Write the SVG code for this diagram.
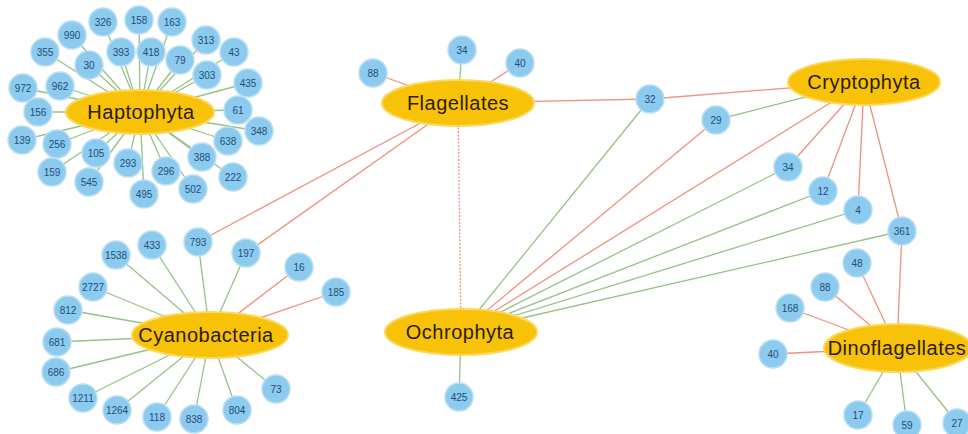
<svg xmlns="http://www.w3.org/2000/svg" width="968" height="434" viewBox="0 0 968 434">
<defs>
<style>
.g{stroke:#95c285;stroke-width:1.3;fill:none}
.r{stroke:#f0917f;stroke-width:1.3;fill:none}
.d{stroke:#ef9a8c;stroke-width:1.4;stroke-dasharray:2 1.5;fill:none}
.n circle{fill:#8ccaee;stroke:#b8def5;stroke-width:1.5}
.n text{font-family:"Liberation Sans",Arial,sans-serif;font-size:10px;fill:#224f7c;text-anchor:middle;dominant-baseline:central}
.h ellipse{fill:#f7c208;stroke:#fbd85a;stroke-width:2}
.h text{font-family:"Liberation Sans",Arial,sans-serif;font-size:20px;letter-spacing:0.5px;fill:#2b2000;text-anchor:middle;dominant-baseline:central}
</style>
</defs>
<rect width="968" height="434" fill="#ffffff"/>
<g id="connectors">
<line class="g" x1="140" y1="112" x2="103" y2="22"/>
<line class="g" x1="140" y1="112" x2="139" y2="20"/>
<line class="g" x1="140" y1="112" x2="172" y2="22"/>
<line class="g" x1="140" y1="112" x2="72" y2="35"/>
<line class="g" x1="140" y1="112" x2="45" y2="52"/>
<line class="g" x1="140" y1="112" x2="121" y2="52"/>
<line class="g" x1="140" y1="112" x2="151" y2="52"/>
<line class="g" x1="140" y1="112" x2="180" y2="60"/>
<line class="g" x1="140" y1="112" x2="206" y2="40"/>
<line class="g" x1="140" y1="112" x2="234" y2="52"/>
<line class="g" x1="140" y1="112" x2="89" y2="65"/>
<line class="g" x1="140" y1="112" x2="207" y2="75"/>
<line class="g" x1="140" y1="112" x2="23" y2="88"/>
<line class="g" x1="140" y1="112" x2="60" y2="86"/>
<line class="g" x1="140" y1="112" x2="248" y2="83"/>
<line class="g" x1="140" y1="112" x2="38" y2="112"/>
<line class="g" x1="140" y1="112" x2="238" y2="110"/>
<line class="g" x1="140" y1="112" x2="259" y2="131"/>
<line class="g" x1="140" y1="112" x2="22" y2="140"/>
<line class="g" x1="140" y1="112" x2="57" y2="144"/>
<line class="g" x1="140" y1="112" x2="96" y2="153"/>
<line class="g" x1="140" y1="112" x2="228" y2="141"/>
<line class="g" x1="140" y1="112" x2="202" y2="157"/>
<line class="g" x1="140" y1="112" x2="52" y2="172"/>
<line class="g" x1="140" y1="112" x2="89" y2="182"/>
<line class="g" x1="140" y1="112" x2="128" y2="163"/>
<line class="g" x1="140" y1="112" x2="166" y2="171"/>
<line class="g" x1="140" y1="112" x2="233" y2="177"/>
<line class="g" x1="140" y1="112" x2="144" y2="194"/>
<line class="g" x1="140" y1="112" x2="193" y2="189"/>
<line class="g" x1="210" y1="335" x2="116" y2="255"/>
<line class="g" x1="210" y1="335" x2="152" y2="245"/>
<line class="g" x1="210" y1="335" x2="198" y2="242"/>
<line class="g" x1="210" y1="335" x2="246" y2="253"/>
<line class="r" x1="210" y1="335" x2="299" y2="267"/>
<line class="r" x1="210" y1="335" x2="336" y2="292"/>
<line class="g" x1="210" y1="335" x2="93" y2="287"/>
<line class="g" x1="210" y1="335" x2="68" y2="310"/>
<line class="g" x1="210" y1="335" x2="57" y2="342"/>
<line class="g" x1="210" y1="335" x2="56" y2="372"/>
<line class="g" x1="210" y1="335" x2="83" y2="398"/>
<line class="g" x1="210" y1="335" x2="117" y2="410"/>
<line class="g" x1="210" y1="335" x2="157" y2="417"/>
<line class="g" x1="210" y1="335" x2="194" y2="419"/>
<line class="g" x1="210" y1="335" x2="237" y2="410"/>
<line class="g" x1="210" y1="335" x2="276" y2="389"/>
<line class="r" x1="458" y1="103" x2="198" y2="242"/>
<line class="r" x1="458" y1="103" x2="246" y2="253"/>
<line class="r" x1="458" y1="103" x2="373" y2="73"/>
<line class="g" x1="458" y1="103" x2="462" y2="50"/>
<line class="r" x1="458" y1="103" x2="520" y2="63"/>
<line class="r" x1="458" y1="103" x2="650" y2="99"/>
<line class="d" x1="458" y1="103" x2="461" y2="332"/>
<line class="r" x1="864" y1="82" x2="650" y2="99"/>
<line class="g" x1="864" y1="82" x2="716" y2="120"/>
<line class="r" x1="864" y1="82" x2="788" y2="167"/>
<line class="r" x1="864" y1="82" x2="823" y2="191"/>
<line class="r" x1="864" y1="82" x2="858" y2="210"/>
<line class="r" x1="864" y1="82" x2="902" y2="231"/>
<line class="r" x1="864" y1="82" x2="461" y2="332"/>
<line class="g" x1="461" y1="332" x2="650" y2="99"/>
<line class="r" x1="461" y1="332" x2="716" y2="120"/>
<line class="g" x1="461" y1="332" x2="788" y2="167"/>
<line class="g" x1="461" y1="332" x2="823" y2="191"/>
<line class="g" x1="461" y1="332" x2="858" y2="210"/>
<line class="g" x1="461" y1="332" x2="902" y2="231"/>
<line class="g" x1="461" y1="332" x2="459" y2="397"/>
<line class="r" x1="897" y1="348" x2="902" y2="231"/>
<line class="r" x1="897" y1="348" x2="857" y2="263"/>
<line class="r" x1="897" y1="348" x2="825" y2="287"/>
<line class="r" x1="897" y1="348" x2="790" y2="308"/>
<line class="r" x1="897" y1="348" x2="773" y2="354"/>
<line class="g" x1="897" y1="348" x2="858" y2="415"/>
<line class="g" x1="897" y1="348" x2="907" y2="425"/>
<line class="g" x1="897" y1="348" x2="957" y2="423"/>
</g>
<g id="hubs">
<g id="Haptophyta" class="h"><ellipse cx="140" cy="112" rx="74" ry="22"/><text x="141" y="112">Haptophyta</text></g>
<g id="Cyanobacteria" class="h"><ellipse cx="210" cy="335" rx="78" ry="23"/><text x="206" y="335">Cyanobacteria</text></g>
<g id="Flagellates" class="h"><ellipse cx="458" cy="103" rx="76" ry="23"/><text x="458" y="103">Flagellates</text></g>
<g id="Cryptophyta" class="h"><ellipse cx="864" cy="82" rx="76" ry="23"/><text x="864" y="82">Cryptophyta</text></g>
<g id="Ochrophyta" class="h"><ellipse cx="461" cy="332" rx="76" ry="23"/><text x="460" y="332">Ochrophyta</text></g>
<g id="Dinoflagellates" class="h"><ellipse cx="898" cy="348" rx="74" ry="24"/><text x="897" y="348">Dinoflagellates</text></g>
</g>
<g id="nodes">
<g id="h326" class="n"><circle cx="103" cy="22" r="14"/><text x="103" y="22">326</text></g>
<g id="h158" class="n"><circle cx="139" cy="20" r="14"/><text x="139" y="20">158</text></g>
<g id="h163" class="n"><circle cx="172" cy="22" r="14"/><text x="172" y="22">163</text></g>
<g id="h990" class="n"><circle cx="72" cy="35" r="14"/><text x="72" y="35">990</text></g>
<g id="h355" class="n"><circle cx="45" cy="52" r="14"/><text x="45" y="52">355</text></g>
<g id="h393" class="n"><circle cx="121" cy="52" r="14"/><text x="121" y="52">393</text></g>
<g id="h418" class="n"><circle cx="151" cy="52" r="14"/><text x="151" y="52">418</text></g>
<g id="h79" class="n"><circle cx="180" cy="60" r="14"/><text x="180" y="60">79</text></g>
<g id="h313" class="n"><circle cx="206" cy="40" r="14"/><text x="206" y="40">313</text></g>
<g id="h43" class="n"><circle cx="234" cy="52" r="14"/><text x="234" y="52">43</text></g>
<g id="h30" class="n"><circle cx="89" cy="65" r="14"/><text x="89" y="65">30</text></g>
<g id="h303" class="n"><circle cx="207" cy="75" r="14"/><text x="207" y="75">303</text></g>
<g id="h972" class="n"><circle cx="23" cy="88" r="14"/><text x="23" y="88">972</text></g>
<g id="h962" class="n"><circle cx="60" cy="86" r="14"/><text x="60" y="86">962</text></g>
<g id="h435" class="n"><circle cx="248" cy="83" r="14"/><text x="248" y="83">435</text></g>
<g id="h156" class="n"><circle cx="38" cy="112" r="14"/><text x="38" y="112">156</text></g>
<g id="h61" class="n"><circle cx="238" cy="110" r="14"/><text x="238" y="110">61</text></g>
<g id="h348" class="n"><circle cx="259" cy="131" r="14"/><text x="259" y="131">348</text></g>
<g id="h139" class="n"><circle cx="22" cy="140" r="14"/><text x="22" y="140">139</text></g>
<g id="h256" class="n"><circle cx="57" cy="144" r="14"/><text x="57" y="144">256</text></g>
<g id="h105" class="n"><circle cx="96" cy="153" r="14"/><text x="96" y="153">105</text></g>
<g id="h638" class="n"><circle cx="228" cy="141" r="14"/><text x="228" y="141">638</text></g>
<g id="h388" class="n"><circle cx="202" cy="157" r="14"/><text x="202" y="157">388</text></g>
<g id="h159" class="n"><circle cx="52" cy="172" r="14"/><text x="52" y="172">159</text></g>
<g id="h545" class="n"><circle cx="89" cy="182" r="14"/><text x="89" y="182">545</text></g>
<g id="h293" class="n"><circle cx="128" cy="163" r="14"/><text x="128" y="163">293</text></g>
<g id="h296" class="n"><circle cx="166" cy="171" r="14"/><text x="166" y="171">296</text></g>
<g id="h222" class="n"><circle cx="233" cy="177" r="14"/><text x="233" y="177">222</text></g>
<g id="h495" class="n"><circle cx="144" cy="194" r="14"/><text x="144" y="194">495</text></g>
<g id="h502" class="n"><circle cx="193" cy="189" r="14"/><text x="193" y="189">502</text></g>
<g id="c1538" class="n"><circle cx="116" cy="255" r="14"/><text x="116" y="255">1538</text></g>
<g id="c433" class="n"><circle cx="152" cy="245" r="14"/><text x="152" y="245">433</text></g>
<g id="c793" class="n"><circle cx="198" cy="242" r="14"/><text x="198" y="242">793</text></g>
<g id="c197" class="n"><circle cx="246" cy="253" r="14"/><text x="246" y="253">197</text></g>
<g id="c16" class="n"><circle cx="299" cy="267" r="14"/><text x="299" y="267">16</text></g>
<g id="c185" class="n"><circle cx="336" cy="292" r="14"/><text x="336" y="292">185</text></g>
<g id="c2727" class="n"><circle cx="93" cy="287" r="14"/><text x="93" y="287">2727</text></g>
<g id="c812" class="n"><circle cx="68" cy="310" r="14"/><text x="68" y="310">812</text></g>
<g id="c681" class="n"><circle cx="57" cy="342" r="14"/><text x="57" y="342">681</text></g>
<g id="c686" class="n"><circle cx="56" cy="372" r="14"/><text x="56" y="372">686</text></g>
<g id="c1211" class="n"><circle cx="83" cy="398" r="14"/><text x="83" y="398">1211</text></g>
<g id="c1264" class="n"><circle cx="117" cy="410" r="14"/><text x="117" y="410">1264</text></g>
<g id="c118" class="n"><circle cx="157" cy="417" r="14"/><text x="157" y="417">118</text></g>
<g id="c838" class="n"><circle cx="194" cy="419" r="14"/><text x="194" y="419">838</text></g>
<g id="c804" class="n"><circle cx="237" cy="410" r="14"/><text x="237" y="410">804</text></g>
<g id="c73" class="n"><circle cx="276" cy="389" r="14"/><text x="276" y="389">73</text></g>
<g id="f88" class="n"><circle cx="373" cy="73" r="14"/><text x="373" y="73">88</text></g>
<g id="f34" class="n"><circle cx="462" cy="50" r="14"/><text x="462" y="50">34</text></g>
<g id="f40" class="n"><circle cx="520" cy="63" r="14"/><text x="520" y="63">40</text></g>
<g id="n32" class="n"><circle cx="650" cy="99" r="14"/><text x="650" y="99">32</text></g>
<g id="n29" class="n"><circle cx="716" cy="120" r="14"/><text x="716" y="120">29</text></g>
<g id="n34" class="n"><circle cx="788" cy="167" r="14"/><text x="788" y="167">34</text></g>
<g id="n12" class="n"><circle cx="823" cy="191" r="14"/><text x="823" y="191">12</text></g>
<g id="n4" class="n"><circle cx="858" cy="210" r="14"/><text x="858" y="210">4</text></g>
<g id="n361" class="n"><circle cx="902" cy="231" r="14"/><text x="902" y="231">361</text></g>
<g id="o425" class="n"><circle cx="459" cy="397" r="14"/><text x="459" y="397">425</text></g>
<g id="d48" class="n"><circle cx="857" cy="263" r="14"/><text x="857" y="263">48</text></g>
<g id="d88" class="n"><circle cx="825" cy="287" r="14"/><text x="825" y="287">88</text></g>
<g id="d168" class="n"><circle cx="790" cy="308" r="14"/><text x="790" y="308">168</text></g>
<g id="d40" class="n"><circle cx="773" cy="354" r="14"/><text x="773" y="354">40</text></g>
<g id="d17" class="n"><circle cx="858" cy="415" r="14"/><text x="858" y="415">17</text></g>
<g id="d59" class="n"><circle cx="907" cy="425" r="14"/><text x="907" y="425">59</text></g>
<g id="d27" class="n"><circle cx="957" cy="423" r="14"/><text x="957" y="423">27</text></g>
</g>
</svg>
